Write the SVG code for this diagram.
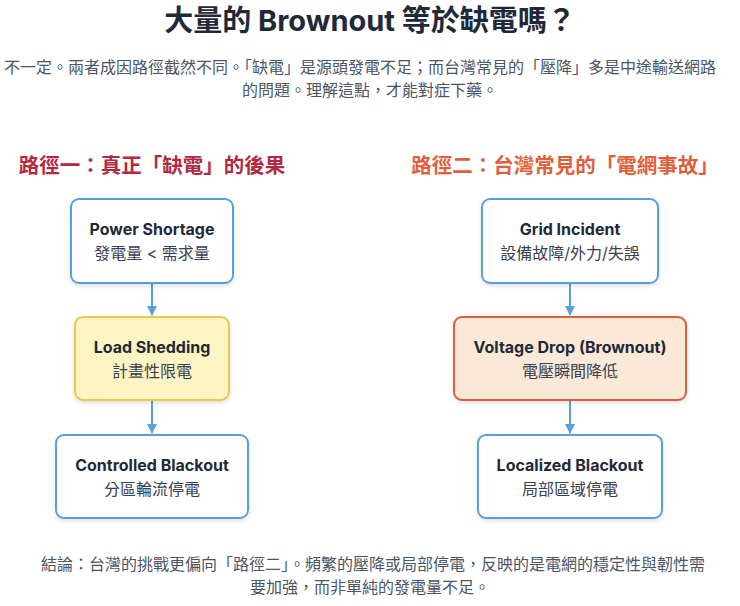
<svg xmlns="http://www.w3.org/2000/svg" width="740" height="606" viewBox="0 0 740 606">
<defs>
<style>
text{font-family:Inter,"Noto Sans","Noto Sans CJK TC",sans-serif;text-anchor:middle}
.t{font-size:29px;font-weight:700;fill:#1f2937}
.p{font-size:16px;fill:#4b5563}
.h{font-size:20.5px;font-weight:700}
.b{fill:#fff;stroke:#5a9fdc;stroke-width:2}
.y{fill:#fdf4c4;stroke:#e9c94a;stroke-width:2}
.o{fill:#fbe9d8;stroke:#dc5e3c;stroke-width:2}
.n1{font-size:16px;font-weight:700;fill:#1f2937}
.n2{font-size:16px;fill:#374151}
.c{stroke:#5a9fdc;stroke-width:2;fill:none}
</style>
<marker id="a" viewBox="0 0 10 10" refX="9" refY="5" markerWidth="5" markerHeight="5" orient="auto"><path d="M0,0L10,5L0,10z" fill="#5a9fdc"/></marker>
<filter id="s" x="-10%" y="-10%" width="120%" height="130%"><feDropShadow dx="0" dy="2" stdDeviation="2" flood-opacity="0.12"/></filter>
</defs>
<rect width="740" height="606" fill="#fff"/>
<text class="t" x="370" y="31">大量的 Brownout 等於缺電嗎？</text>
<text class="p" x="360" y="73">不一定。兩者成因路徑截然不同。「缺電」是源頭發電不足；而台灣常見的「壓降」多是中途輸送網路</text>
<text class="p" x="370" y="96">的問題。理解這點，才能對症下藥。</text>
<text class="h" x="152" y="173" fill="#b22a40">路徑一：真正「缺電」的後果</text>
<text class="h" x="565" y="173" fill="#e0603a">路徑二：台灣常見的「電網事故」</text>
<g id="connectors">
<line class="c" x1="152" y1="283" x2="152" y2="315" marker-end="url(#a)"/>
<line class="c" x1="152" y1="400" x2="152" y2="433" marker-end="url(#a)"/>
<line class="c" x1="570" y1="283" x2="570" y2="315" marker-end="url(#a)"/>
<line class="c" x1="570" y1="400" x2="570" y2="433" marker-end="url(#a)"/>
</g>
<g id="power-shortage"><rect class="b" filter="url(#s)" x="71" y="199" width="162" height="84" rx="8"/><text class="n1" x="152" y="235">Power Shortage</text><text class="n2" x="152" y="259">發電量 &lt; 需求量</text></g>
<g id="load-shedding"><rect class="y" filter="url(#s)" x="75" y="317" width="154" height="83" rx="8"/><text class="n1" x="152" y="353">Load Shedding</text><text class="n2" x="152" y="377">計畫性限電</text></g>
<g id="controlled-blackout"><rect class="b" filter="url(#s)" x="56" y="435" width="192" height="83" rx="8"/><text class="n1" x="152" y="471">Controlled Blackout</text><text class="n2" x="152" y="495">分區輪流停電</text></g>
<g id="grid-incident"><rect class="b" filter="url(#s)" x="482" y="199" width="176" height="84" rx="8"/><text class="n1" x="570" y="235">Grid Incident</text><text class="n2" x="570" y="259">設備故障/外力/失誤</text></g>
<g id="voltage-drop"><rect class="o" filter="url(#s)" x="454" y="317" width="232" height="83" rx="8"/><text class="n1" x="570" y="353">Voltage Drop (Brownout)</text><text class="n2" x="570" y="377">電壓瞬間降低</text></g>
<g id="localized-blackout"><rect class="b" filter="url(#s)" x="478" y="435" width="184" height="83" rx="8"/><text class="n1" x="570" y="471">Localized Blackout</text><text class="n2" x="570" y="495">局部區域停電</text></g>
<text class="p" x="373" y="570">結論：台灣的挑戰更偏向「路徑二」。頻繁的壓降或局部停電，反映的是電網的穩定性與韌性需</text>
<text class="p" x="370" y="593">要加強，而非單純的發電量不足。</text>
</svg>
